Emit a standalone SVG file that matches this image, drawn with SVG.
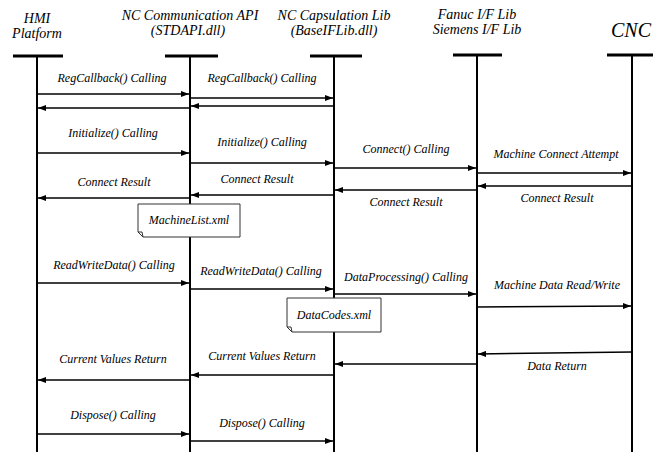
<svg xmlns="http://www.w3.org/2000/svg" width="665" height="452" viewBox="0 0 665 452">
<defs>
<marker id="ah" viewBox="0 0 8 6" refX="8" refY="3" markerWidth="8" markerHeight="6" markerUnits="userSpaceOnUse" orient="auto">
<path d="M0,0 L8,3 L0,6 Z" fill="#000"/>
</marker>
</defs>
<style>
text{font-family:"Liberation Serif","Times New Roman",serif;font-style:italic;fill:#000;text-anchor:middle}
.hd{font-size:14px}
.lb{font-size:12px}
.bar{stroke:#000;stroke-width:3}
.life{stroke:#000;stroke-width:2}
.msg{stroke:#000;stroke-width:1.5;fill:none;marker-end:url(#ah)}
.note{fill:#fff;stroke:#333;stroke-width:1}
</style>
<rect width="665" height="452" fill="#fff"/>
<g id="hmi">
<text class="hd" x="37" y="23">HMI</text>
<text class="hd" x="37" y="38">Platform</text>
<line class="bar" x1="13" y1="56" x2="63" y2="56"/>
<line class="life" x1="37" y1="56" x2="37" y2="452"/>
</g>
<g id="api">
<text class="hd" x="190" y="20">NC Communication API</text>
<text class="hd" x="188" y="35">(STDAPI.dll)</text>
<line class="bar" x1="165" y1="56" x2="218" y2="56"/>
<line class="life" x1="190" y1="56" x2="190" y2="452"/>
</g>
<g id="lib">
<text class="hd" x="334" y="20">NC Capsulation Lib</text>
<text class="hd" x="334" y="35">(BaseIFLib.dll)</text>
<line class="bar" x1="310" y1="56" x2="362" y2="56"/>
<line class="life" x1="334" y1="56" x2="334" y2="452"/>
</g>
<g id="fanuc">
<text class="hd" x="477" y="19">Fanuc I/F Lib</text>
<text class="hd" x="477" y="34">Siemens I/F Lib</text>
<line class="bar" x1="453" y1="55" x2="502" y2="55"/>
<line class="life" x1="477" y1="55" x2="477" y2="452"/>
</g>
<g id="cnc">
<text x="631" y="37" style="font-size:20px">CNC</text>
<line class="bar" x1="607" y1="55" x2="653" y2="55"/>
<line class="life" x1="632" y1="55" x2="632" y2="452"/>
</g>
<g id="connectors">
<path class="msg" d="M37,94 L189,94"/>
<path class="msg" d="M190,98 L333,98"/>
<path class="msg" d="M334,106 L191,106"/>
<path class="msg" d="M190,108 L38,108"/>
<path class="msg" d="M37,153 L189,153"/>
<path class="msg" d="M190,163 L333,163"/>
<path class="msg" d="M334,168 L476,168"/>
<path class="msg" d="M477,173 L631,173"/>
<path class="msg" d="M632,186 L478,186"/>
<path class="msg" d="M477,190 L335,190"/>
<path class="msg" d="M334,195 L191,195"/>
<path class="msg" d="M190,198 L38,198"/>
<path class="msg" d="M37,283 L189,283"/>
<path class="msg" d="M190,289 L333,289"/>
<path class="msg" d="M334,294 L476,294"/>
<path class="msg" d="M477,307 L631,306"/>
<path class="msg" d="M632,352 L478,354"/>
<path class="msg" d="M477,364 L335,364"/>
<path class="msg" d="M334,375 L191,375"/>
<path class="msg" d="M190,380 L38,380"/>
<path class="msg" d="M37,434 L189,434"/>
<path class="msg" d="M190,441 L333,441"/>
</g>
<g id="labels">
<text class="lb" x="112" y="82">RegCallback() Calling</text>
<text class="lb" x="262" y="82">RegCallback() Calling</text>
<text class="lb" x="113" y="137">Initialize() Calling</text>
<text class="lb" x="262" y="146">Initialize() Calling</text>
<text class="lb" x="406" y="153">Connect() Calling</text>
<text class="lb" x="556" y="158">Machine Connect Attempt</text>
<text class="lb" x="557" y="202">Connect Result</text>
<text class="lb" x="406" y="206">Connect Result</text>
<text class="lb" x="257" y="183">Connect Result</text>
<text class="lb" x="114" y="186">Connect Result</text>
<text class="lb" x="114" y="269">ReadWriteData() Calling</text>
<text class="lb" x="261" y="275">ReadWriteData() Calling</text>
<text class="lb" x="406" y="281">DataProcessing() Calling</text>
<text class="lb" x="557" y="289">Machine Data Read/Write</text>
<text class="lb" x="557" y="370">Data Return</text>
<text class="lb" x="262" y="360">Current Values Return</text>
<text class="lb" x="113" y="363">Current Values Return</text>
<text class="lb" x="113" y="419">Dispose() Calling</text>
<text class="lb" x="262" y="427">Dispose() Calling</text>
</g>
<g id="machinelist">
<path class="note" d="M138,204 L240,204 L240,237 L143,237 L138,232 Z"/>
<path d="M138,232 L143,237 L142,232 Z" fill="#fff" stroke="#333" stroke-width="1"/>
<text class="lb" x="189" y="224">MachineList.xml</text>
</g>
<g id="datacodes">
<path class="note" d="M287,298 L381,298 L381,332 L292,332 L287,327 Z"/>
<path d="M287,327 L292,332 L291,327 Z" fill="#fff" stroke="#333" stroke-width="1"/>
<text class="lb" x="334" y="319">DataCodes.xml</text>
</g>
</svg>
